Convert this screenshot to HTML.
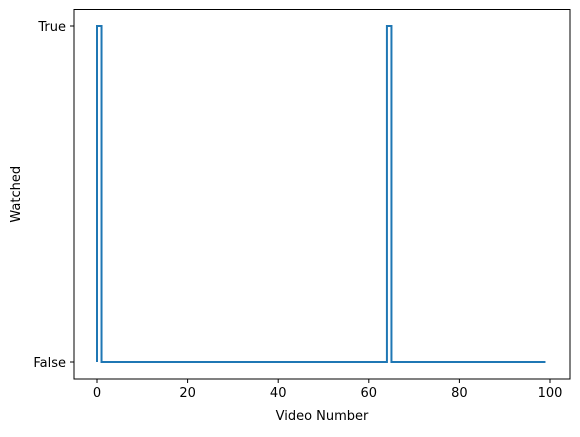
<!DOCTYPE html>
<html><head><meta charset="utf-8"><style>
body{margin:0;background:#fff}
svg text{font-family:"DejaVu Sans","Liberation Sans",sans-serif;font-size:13px;fill:#000}
</style></head><body>
<svg width="580" height="432" viewBox="0 0 580 432">
<g id="plot"></g>
</svg>
<script>
const xTicks=[0,20,40,60,80,100];
const yTickLabels=["False","True"];
const watched=[0,1,0,0,0,0,0,0,0,0, 0,0,0,0,0,0,0,0,0,0, 0,0,0,0,0,0,0,0,0,0, 0,0,0,0,0,0,0,0,0,0, 0,0,0,0,0,0,0,0,0,0, 0,0,0,0,0,0,0,0,0,0, 0,0,0,0,0,1,0,0,0,0, 0,0,0,0,0,0,0,0,0,0, 0,0,0,0,0,0,0,0,0,0, 0,0,0,0,0,0,0,0,0,0];
const NS="http://www.w3.org/2000/svg";
const g=document.getElementById('plot');
const L=74,R=570,T=9.5,B=379;
const xs=v=>97+v*(550-97)/100;
const ys=v=>362-v*(362-26);
function el(t,a,p){const e=document.createElementNS(NS,t);for(const k in a)e.setAttribute(k,a[k]);(p||g).appendChild(e);return e;}
let d="M"+xs(0)+","+ys(watched[0]);
for(let i=1;i<watched.length;i++){d+=" L"+xs(i-1)+","+ys(watched[i])+" L"+xs(i)+","+ys(watched[i]);}
const line=el('path',{d:d,fill:'none',stroke:'#1f77b4','stroke-width':2,'stroke-linejoin':'miter'});


const frame=el('rect',{x:L,y:T,width:R-L,height:B-T,fill:'none',stroke:'#000','stroke-width':1});


xTicks.forEach(v=>{
 const tk=el('line',{x1:xs(v),x2:xs(v),y1:B,y2:B+4,stroke:'#000','stroke-width':1});
 
 
 const t=el('text',{x:xs(v),y:B+18,'text-anchor':'middle'});t.textContent=v;
 
 
});
yTickLabels.forEach((s,i)=>{
 const tk=el('line',{x1:L-4,x2:L,y1:ys(i),y2:ys(i),stroke:'#000','stroke-width':1});
 
 
 const t=el('text',{x:L-8,y:ys(i)+5,'text-anchor':'end'});t.textContent=s;
 
 
});
const xt=el('text',{x:(L+R)/2,y:420,'text-anchor':'middle'});xt.textContent='Video Number';


const yt=el('text',{x:0,y:0,'text-anchor':'middle',transform:'translate(20,'+((T+B)/2)+') rotate(-90)'});yt.textContent='Watched';


</script>
</body></html>
